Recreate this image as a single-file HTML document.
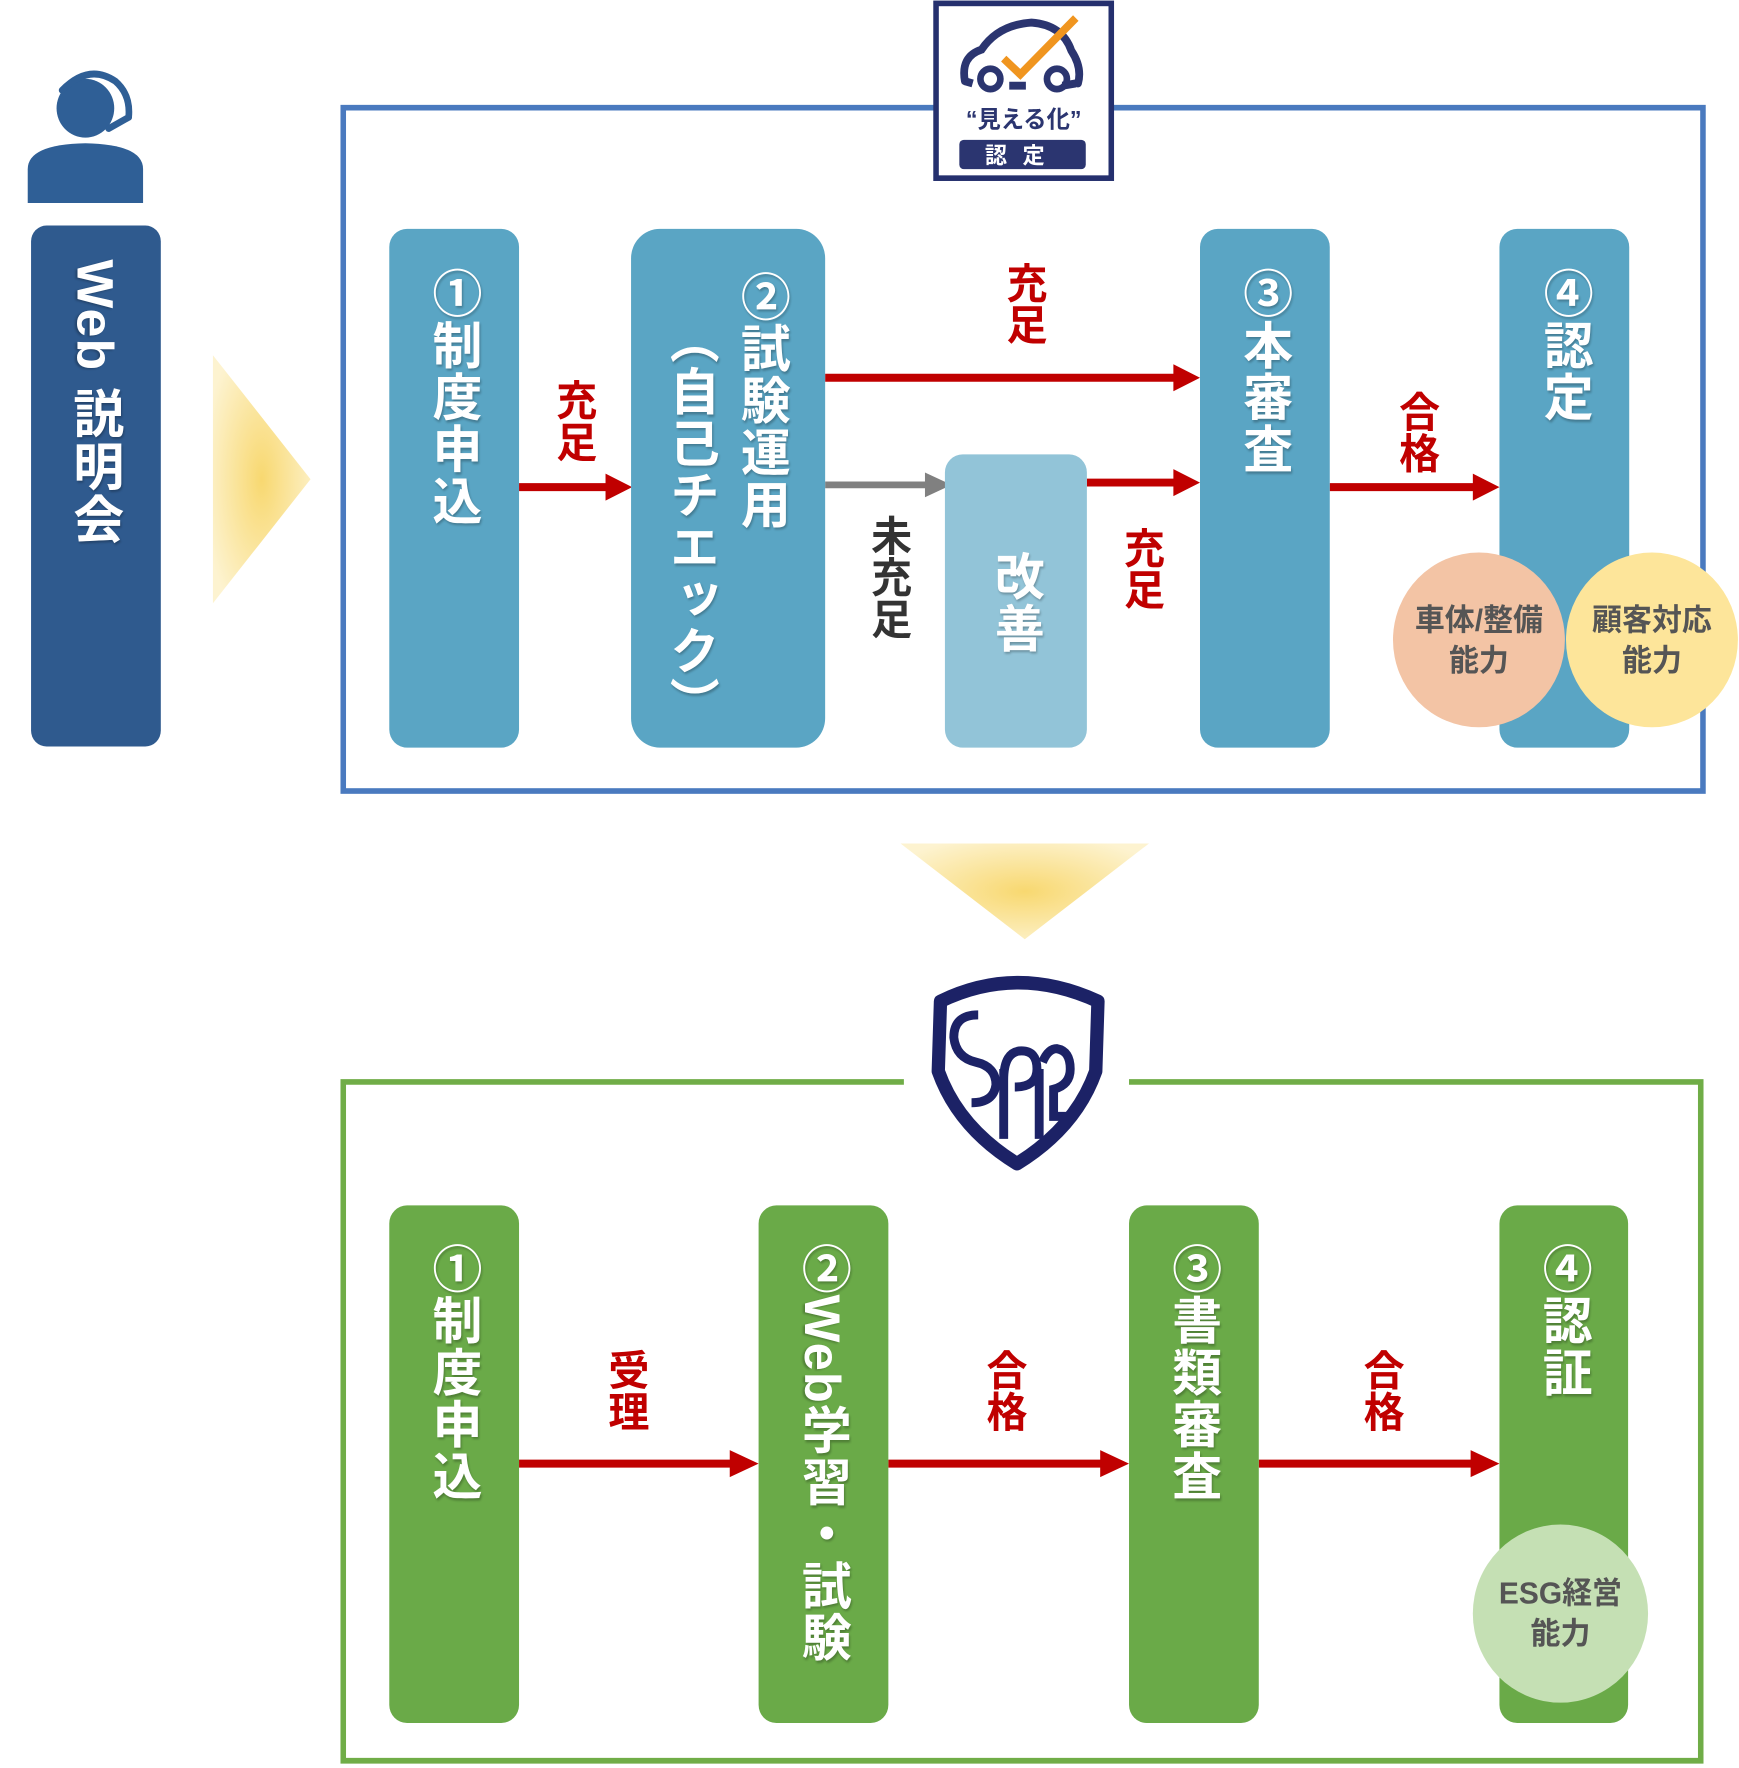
<!DOCTYPE html>
<html><head><meta charset="utf-8">
<style>
html,body{margin:0;padding:0;background:#fff;width:1739px;height:1768px;overflow:hidden}
#w{position:absolute;left:0;top:0;width:1568px;height:1568px;transform:scale(1.10906,1.1276);transform-origin:0 0;font-family:"Liberation Sans","Noto Sans CJK JP",sans-serif;font-weight:bold}
.a{position:absolute}
.col{position:absolute;border-radius:16px}
.v{position:absolute;writing-mode:vertical-rl;white-space:nowrap;line-height:1;font-weight:bold}
.wt{color:#fff;font-size:45px;letter-spacing:1px;text-shadow:1px 2px 2px rgba(0,0,0,.25)}
.rd{color:#c00000;font-size:37px}
.circ{position:absolute;border-radius:50%;display:flex;align-items:center;justify-content:center;text-align:center;color:#555;font-size:27px;line-height:36px}
</style></head><body>
<div id="w">
<svg class="a" style="left:0;top:0" width="1568" height="1568" viewBox="0 0 1568 1568">
<defs>
<radialGradient id="g1" cx="0.5" cy="0.5" r="0.6"><stop offset="0" stop-color="#f8d870"/><stop offset="1" stop-color="#fdf3d0"/></radialGradient>
</defs>
<g fill="#2f5f96">
<circle cx="77" cy="96" r="26"/>
<path d="M25 180 L25 150 Q25 128 77 127 Q129 128 129 150 L129 180 Z"/>
</g>
<path d="M56 80 Q80 56 104 72 Q118 84 116 104" fill="none" stroke="#2f5f96" stroke-width="6" stroke-linecap="round"/>
<path d="M116 104 L98 114" stroke="#2f5f96" stroke-width="6" stroke-linecap="round"/>
<polygon points="192,315 280,425 192,535" fill="url(#g1)"/>
<polygon points="812,748 1036,748 924,833" fill="url(#g1)"/>
<rect x="309.5" y="95.5" width="1226" height="606" fill="none" stroke="#4a7abf" stroke-width="5"/>
<path d="M815 959.5 L309.5 959.5 L309.5 1561.5 L1533.5 1561.5 L1533.5 959.5 L1018 959.5" fill="none" stroke="#70ad47" stroke-width="5"/>
<rect x="844" y="3" width="158" height="155" fill="#fff" stroke="#25306e" stroke-width="5"/>
<path d="M870 72 Q866 50 885 44 Q900 22 930 20 Q958 22 966 45 Q976 60 972 74" fill="none" stroke="#2b3570" stroke-width="7" stroke-linecap="round"/>
<path d="M870 72 L877 74 M910 76 L925 76 M958 76 L970 74" stroke="#2b3570" stroke-width="7"/>
<circle cx="893" cy="70" r="9" fill="none" stroke="#2b3570" stroke-width="6"/>
<circle cx="953" cy="70" r="9" fill="none" stroke="#2b3570" stroke-width="6"/>
<path d="M905 52 L920 66 L970 16" fill="none" stroke="#f0951f" stroke-width="7"/>
<text x="923" y="113" text-anchor="middle" font-size="21" font-weight="bold" fill="#2b3570" font-family="Liberation Sans,Noto Sans CJK JP,sans-serif">“見える化”</text>
<rect x="865" y="124" width="114" height="26" rx="4" fill="#2b3570"/>
<text x="922" y="145" text-anchor="middle" font-size="20" font-weight="bold" fill="#fff" letter-spacing="14" font-family="Liberation Sans,Noto Sans CJK JP,sans-serif">認定</text>
<path d="M848 888 Q917 855 990 888 L988 950 Q970 1000 917 1032 Q864 1000 846 950 Z" fill="#fff" stroke="#1c2266" stroke-width="12" stroke-linejoin="round"/>
<path d="M882 900 Q860 900 860 920 Q862 938 880 942 Q898 946 898 962 Q896 978 876 978" fill="none" stroke="#1c2266" stroke-width="8"/>
<path d="M905 1010 L905 948 M905 958 Q905 932 921 932 Q935 932 935 948 Q935 964 915 964" fill="none" stroke="#1c2266" stroke-width="8"/>
<path d="M937 1010 L937 948 M940 942 Q945 930 953 930 Q965 932 965 948 Q965 962 950 966 L950 990 L970 990" fill="none" stroke="#1c2266" stroke-width="8"/>
<g stroke="#c00000" stroke-width="7" fill="none">
<line x1="468" y1="432" x2="548" y2="432"/>
<line x1="744" y1="335" x2="1062" y2="335"/>
<line x1="980" y1="428" x2="1062" y2="428"/>
<line x1="1199" y1="432" x2="1332" y2="432"/>
<line x1="468" y1="1298" x2="662" y2="1298"/>
<line x1="801" y1="1298" x2="996" y2="1298"/>
<line x1="1135" y1="1298" x2="1330" y2="1298"/>
</g>
<g fill="#c00000">
<polygon points="546,420 570,432 546,444"/>
<polygon points="1058,323 1082,335 1058,347"/>
<polygon points="1058,416 1082,428 1058,440"/>
<polygon points="1328,420 1352,432 1328,444"/>
<polygon points="658,1286 684,1298 658,1310"/>
<polygon points="992,1286 1018,1298 992,1310"/>
<polygon points="1326,1286 1352,1298 1326,1310"/>
</g>
<line x1="744" y1="430" x2="838" y2="430" stroke="#808080" stroke-width="6"/>
<polygon points="834,419 858,430 834,441" fill="#808080"/>
</svg>

<div class="col" style="left:28px;top:200px;width:117px;height:462px;background:#2f5a8e;border-radius:14px"></div>
<div class="v wt" style="left:63px;top:230px;font-size:46px">Web 説明会</div>

<div class="col" style="left:351px;top:203px;width:117px;height:460px;background:#5aa5c4"></div>
<div class="col" style="left:569px;top:203px;width:175px;height:460px;background:#5aa5c4;border-radius:26px"></div>
<div class="col" style="left:852px;top:403px;width:128px;height:260px;background:#92c4d8"></div>
<div class="col" style="left:1082px;top:203px;width:117px;height:460px;background:#5aa5c4"></div>
<div class="col" style="left:1352px;top:203px;width:117px;height:460px;background:#5aa5c4"></div>

<div class="v wt" style="left:386px;top:237px">①制度申込</div>
<div class="v wt" style="left:664px;top:240px">②試験運用</div>
<div class="v wt" style="left:600px;top:278px">（自己チエック）</div>
<div class="v wt" style="left:893px;top:488px">改善</div>
<div class="v wt" style="left:1117px;top:237px">③本審査</div>
<div class="v wt" style="left:1388px;top:237px">④認定</div>

<div class="v rd" style="left:498px;top:336px">充足</div>
<div class="v rd" style="left:904px;top:232px">充足</div>
<div class="v rd" style="left:1010px;top:467px">充足</div>
<div class="v rd" style="left:1258px;top:346px">合格</div>
<div class="v rd" style="left:782px;top:456px;color:#333">未充足</div>

<div class="circ" style="left:1256px;top:490px;width:155px;height:155px;background:#f3c4a5">車体/整備<br>能力</div>
<div class="circ" style="left:1412px;top:490px;width:155px;height:155px;background:#fde59a">顧客対応<br>能力</div>

<div class="col" style="left:351px;top:1069px;width:117px;height:459px;background:#6aaa48"></div>
<div class="col" style="left:684px;top:1069px;width:117px;height:459px;background:#6aaa48"></div>
<div class="col" style="left:1018px;top:1069px;width:117px;height:459px;background:#6aaa48"></div>
<div class="col" style="left:1352px;top:1069px;width:116px;height:459px;background:#6aaa48"></div>

<div class="v wt" style="left:386px;top:1102px">①制度申込</div>
<div class="v wt" style="left:719px;top:1102px">②Web学習・試験</div>
<div class="v wt" style="left:1053px;top:1102px">③書類審査</div>
<div class="v wt" style="left:1387px;top:1102px">④認証</div>

<div class="v rd" style="left:545px;top:1196px">受理</div>
<div class="v rd" style="left:886px;top:1196px">合格</div>
<div class="v rd" style="left:1226px;top:1196px">合格</div>

<div class="circ" style="left:1328px;top:1352px;width:158px;height:158px;background:#c5e0b4">ESG経営<br>能力</div>
</div>
</body></html>
